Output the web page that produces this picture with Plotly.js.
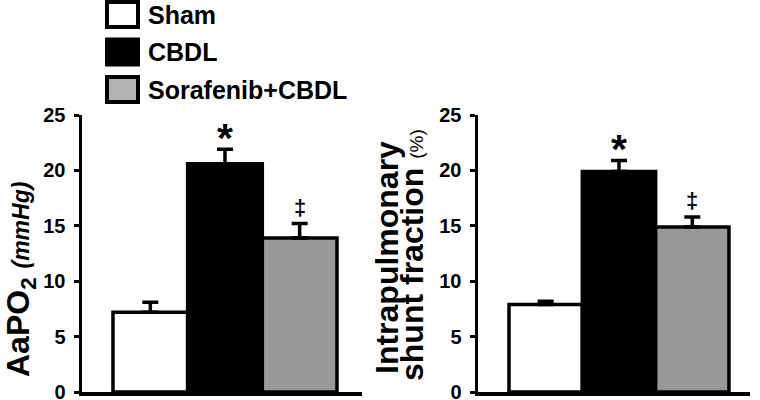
<!DOCTYPE html>
<html><head><meta charset="utf-8">
<script src="https://cdn.plot.ly/plotly-3.0.1.min.js"></script>
<style>html,body{margin:0;padding:0;background:#fff;overflow:hidden}#chart{width:760px;height:400px}</style>
</head><body><div id="chart"></div>
<script>
// ---- data ----
const groups = ['Sham', 'CBDL', 'Sorafenib+CBDL'];
const aapo2Mean = [7.2, 20.6, 13.9];
const aapo2Sem = [0.9, 1.3, 1.3];
const shuntMean = [7.9, 19.9, 14.9];
const shuntSem = [0.3, 1.0, 0.9];
const aapo2Marks = ['', '*', '‡'];
const shuntMarks = ['', '*', '‡'];
const yTicks = [0, 5, 10, 15, 20, 25];
const aapo2Title = 'AaPO<sub>2</sub> <span style="font-size:23px"><i>(mmHg)</i></span>';
const shuntTitle1 = 'Intrapulmonary';
const shuntTitle2 = 'shunt fraction <span style="font-size:19px;font-weight:normal">(%)</span>';

// ---- styles ----
const FONT = 'Liberation Sans, Arial, Helvetica, sans-serif';
const barColors = ['#ffffff', '#000000', '#999999'];
const legendColors = ['#ffffff', '#000000', '#b3b3b3'];
const W = 760, H = 400;
const px = v => v / W, py = v => 1 - v / H;

function barTrace(means, sems, xa, ya) {
  return {
    type: 'bar', x: groups, y: means, xaxis: xa, yaxis: ya,
    width: 1, showlegend: false, hoverinfo: 'skip', cliponaxis: false,
    marker: {color: barColors, line: {color: '#000', width: 3.5}},
    error_y: {type: 'data', symmetric: false, array: sems, arrayminus: sems.map(() => 0),
              color: '#000', thickness: 3.5, width: 8}
  };
}

const yAxisBase = {
  range: [0, 25], tickvals: yTicks, ticks: 'outside', ticklen: 5, tickwidth: 3, tickcolor: '#000',
  showline: true, linewidth: 3.5, linecolor: '#000', showgrid: false, zeroline: false,
  tickfont: {family: FONT, size: 20, weight: 'bold', color: '#000'}, ticklabeloverflow: 'allow',
  ticklabelstandoff: 4, domain: [py(392), py(115)], fixedrange: true
};
const xAxisBase = {
  type: 'category', showline: true, linewidth: 3.5, linecolor: '#000', layer: 'above traces',
  showticklabels: false, ticks: '', showgrid: false, zeroline: false, fixedrange: true
};

const annotations = [];
function addMarks(marks, means, sems, xref, yref) {
  marks.forEach((m, i) => {
    if (!m) return;
    const star = m === '*';
    annotations.push({
      x: groups[i], y: means[i] + sems[i], xref, yref, text: m, showarrow: false,
      yanchor: 'bottom', yshift: star ? -14 : 2,
      font: {family: FONT, size: star ? 41 : 22, weight: 'bold', color: '#000'}
    });
  });
}
addMarks(aapo2Marks, aapo2Mean, aapo2Sem, 'x', 'y');
addMarks(shuntMarks, shuntMean, shuntSem, 'x2', 'y2');

// axis titles
annotations.push({xref: 'paper', yref: 'paper', x: px(20), y: py(280), text: aapo2Title,
  textangle: -90, showarrow: false, xanchor: 'center', yanchor: 'middle',
  font: {family: FONT, size: 32, weight: 'bold', color: '#000'}});
annotations.push({xref: 'paper', yref: 'paper', x: px(387), y: py(258), text: shuntTitle1,
  textangle: -90, showarrow: false, xanchor: 'center', yanchor: 'middle',
  font: {family: FONT, size: 32, weight: 'bold', color: '#000'}});
annotations.push({xref: 'paper', yref: 'paper', x: px(412), y: py(255), text: shuntTitle2,
  textangle: -90, showarrow: false, xanchor: 'center', yanchor: 'middle',
  font: {family: FONT, size: 32, weight: 'bold', color: '#000'}});

// legend (drawn manually with large swatches)
const shapes = [];
groups.forEach((g, i) => {
  const cy = 14.5 + 37.5 * i;
  shapes.push({type: 'rect', xref: 'paper', yref: 'paper',
    x0: px(107), x1: px(138), y0: py(cy + 12.5), y1: py(cy - 12.5),
    fillcolor: legendColors[i], line: {color: '#000', width: 4}});
  annotations.push({xref: 'paper', yref: 'paper', x: px(146), y: py(cy), text: g,
    showarrow: false, xanchor: 'left', yanchor: 'middle',
    font: {family: FONT, size: 25, weight: 'bold', color: '#000'}});
});

const layout = {
  width: W, height: H, margin: {l: 0, r: 0, t: 0, b: 0},
  paper_bgcolor: '#fff', plot_bgcolor: '#fff', bargap: 0, showlegend: false,
  xaxis: Object.assign({}, xAxisBase, {domain: [px(82), px(362)], range: [-0.915, 2.835], anchor: 'y'}),
  yaxis: Object.assign({}, yAxisBase, {anchor: 'x'}),
  xaxis2: Object.assign({}, xAxisBase, {domain: [px(478), px(750)], range: [-0.923, 2.787], anchor: 'y2'}),
  yaxis2: Object.assign({}, yAxisBase, {anchor: 'x2'}),
  annotations, shapes
};

Plotly.newPlot('chart', [
  barTrace(aapo2Mean, aapo2Sem, 'x', 'y'),
  barTrace(shuntMean, shuntSem, 'x2', 'y2')
], layout, {displayModeBar: false, staticPlot: true});
</script>
</body></html>
